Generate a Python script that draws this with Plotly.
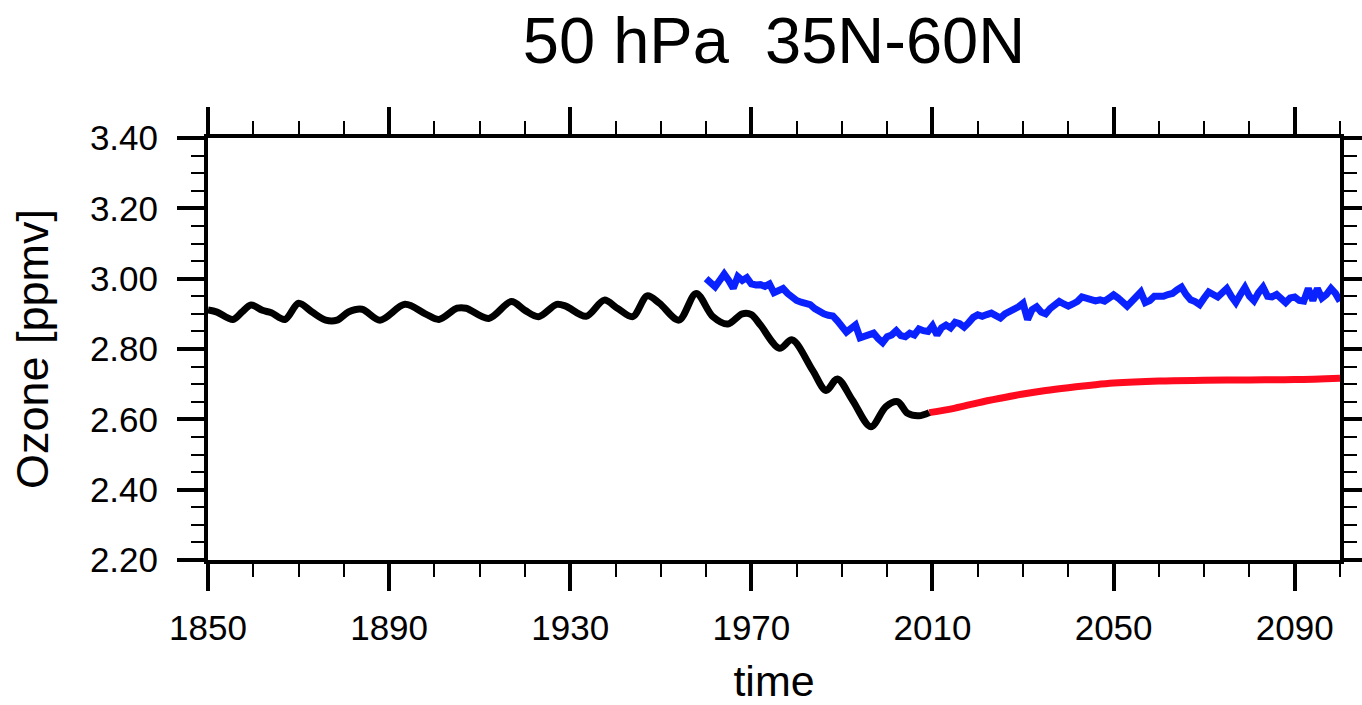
import plotly.graph_objects as go

# ---- data ----
black_years = [1850, 1852, 1855.5, 1857.5, 1859.5, 1862, 1864, 1867, 1870, 1873, 1876, 1878.5,
               1881, 1884, 1888, 1893.5, 1898, 1901, 1905, 1907, 1912, 1917, 1920, 1923, 1927,
               1929, 1933.5, 1937.5, 1940.5, 1943.8, 1947, 1949.7, 1954, 1957.8, 1961.5, 1964.8,
               1968, 1970, 1972, 1976.2, 1979, 1983.5, 1986.5, 1989, 1992.3, 1996.4, 1999.7,
               2002.3, 2004.5, 2007, 2009.3]
black_vals = [2.911, 2.905, 2.884, 2.905, 2.925, 2.910, 2.903, 2.884, 2.930, 2.905, 2.882, 2.882,
              2.905, 2.913, 2.882, 2.927, 2.900, 2.884, 2.916, 2.916, 2.887, 2.935, 2.910, 2.892,
              2.927, 2.922, 2.893, 2.939, 2.915, 2.892, 2.951, 2.930, 2.882, 2.958, 2.892, 2.871,
              2.900, 2.898, 2.868, 2.802, 2.826, 2.740, 2.682, 2.715, 2.655, 2.579, 2.636,
              2.650, 2.617, 2.610, 2.619]

blue_years = list(range(1960, 2101))
blue_vals = [
    3.000, 2.990, 2.977, 2.995, 3.013, 2.995, 2.973, 3.006, 2.995, 3.003,   # 1960-1969
    2.985, 2.982, 2.983, 2.978, 2.985, 2.960, 2.965, 2.972, 2.958, 2.945,   # 1970-1979
    2.938, 2.933, 2.928, 2.926, 2.915, 2.905, 2.900, 2.896, 2.894, 2.880,   # 1980-1989
    2.862, 2.848, 2.858, 2.868, 2.832, 2.838, 2.840, 2.845, 2.830, 2.818,   # 1990-1999
    2.835, 2.840, 2.852, 2.838, 2.835, 2.845, 2.840, 2.857, 2.852, 2.850,   # 2000-2009
    2.866, 2.840, 2.860, 2.868, 2.860, 2.876, 2.872, 2.862, 2.875, 2.890,   # 2010-2019
    2.897, 2.893, 2.898, 2.902, 2.895, 2.888, 2.900, 2.905, 2.912, 2.920,   # 2020-2029
    2.930, 2.884, 2.912, 2.920, 2.905, 2.900, 2.915, 2.925, 2.935, 2.928,   # 2030-2039
    2.922, 2.928, 2.935, 2.948, 2.944, 2.940, 2.937, 2.940, 2.936, 2.945,   # 2040-2049
    2.954, 2.945, 2.930, 2.922, 2.935, 2.950, 2.962, 2.932, 2.938, 2.950,   # 2050-2059
    2.948, 2.950, 2.955, 2.958, 2.968, 2.976, 2.955, 2.940, 2.935, 2.926,   # 2060-2069
    2.945, 2.962, 2.955, 2.948, 2.960, 2.972, 2.950, 2.932, 2.955, 2.975,   # 2070-2079
    2.950, 2.937, 2.960, 2.976, 2.950, 2.948, 2.955, 2.945, 2.932, 2.945,   # 2080-2089
    2.948, 2.938, 2.936, 2.972, 2.938, 2.972, 2.945, 2.955, 2.972, 2.958,   # 2090-2099
    2.936,                                                                   # 2100
]

red_years = [2009.3, 2015, 2020, 2025, 2030, 2035, 2040, 2045, 2050, 2060, 2070, 2080, 2090, 2100]
red_vals = [2.619, 2.632, 2.647, 2.660, 2.672, 2.682, 2.690, 2.697, 2.703, 2.709, 2.711, 2.712, 2.713, 2.717]

x_ticks = [1850, 1890, 1930, 1970, 2010, 2050, 2090]
y_ticks = [2.20, 2.40, 2.60, 2.80, 3.00, 3.20, 3.40]
y_tick_text = ["%.2f" % v for v in y_ticks]

FONT = "Liberation Sans, Arial, Helvetica, sans-serif"

fig = go.Figure()
fig.add_trace(go.Scatter(x=blue_years, y=blue_vals, mode="lines",
                         line=dict(color="#0a22ff", width=7), showlegend=False))
fig.add_trace(go.Scatter(x=red_years, y=red_vals, mode="lines",
                         line=dict(color="#ff0a1e", width=7, shape="spline"), showlegend=False))
fig.add_trace(go.Scatter(x=black_years, y=black_vals, mode="lines",
                         line=dict(color="#000000", width=7, shape="spline", smoothing=0.9),
                         showlegend=False))

axis_common = dict(
    showline=True, linecolor="black", linewidth=4, mirror="ticks",
    ticks="outside", ticklen=27, tickwidth=4, tickcolor="black",
    showgrid=False, zeroline=False, automargin=False,
    tickfont=dict(family=FONT, size=35, color="black"),
)

fig.update_layout(
    width=1362, height=705,
    paper_bgcolor="white", plot_bgcolor="white",
    margin=dict(l=208, r=22, t=138, b=145, autoexpand=False),
    font=dict(family=FONT, color="black"),
    title=dict(text="50 hPa  35N-60N", x=0.5, xref="paper", xanchor="center",
               y=1 - 40 / 705, yref="container", yanchor="middle",
               font=dict(family=FONT, size=65, color="black")),
    xaxis=dict(range=[1850, 2100], tickvals=x_ticks, ticktext=[str(v) for v in x_ticks],
               minor=dict(ticks="outside", dtick=10, tick0=1850, ticklen=13, tickwidth=2,
                          tickcolor="black", showgrid=False),
               title=dict(text="time", font=dict(family=FONT, size=43, color="black"), standoff=27),
               ticklabelstandoff=7,
               **axis_common),
    yaxis=dict(range=[2.20, 3.40], tickvals=y_ticks, ticktext=y_tick_text,
               minor=dict(ticks="outside", dtick=0.05, tick0=2.2, ticklen=13, tickwidth=2,
                          tickcolor="black", showgrid=False),
               title=dict(text="Ozone [ppmv]", font=dict(family=FONT, size=45, color="black"), standoff=28),
               ticklabelstandoff=12,
               **axis_common),
)

# remove the browser's default body margin so the figure fills the window exactly
fig.write_html("out.html", config={"displayModeBar": False},
               post_script="document.body.style.margin='0';")
